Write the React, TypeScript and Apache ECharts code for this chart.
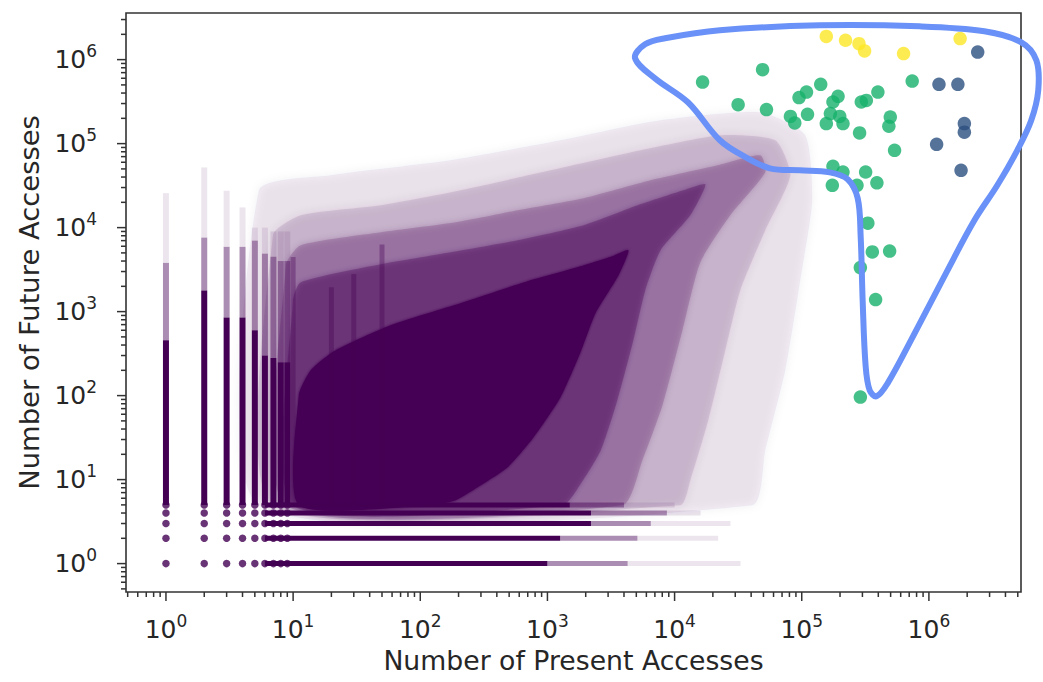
import { useEffect, useRef } from 'react';
import * as echarts from 'echarts';

// ---------- colours ----------
const PURPLE = '#440154';
const GREEN = '#17b06c';
const YELLOW = '#fde725';
const NAVY = '#2b4f80';
const OUTLINE = '#6a91f7';
const INK = '#262626';

// ---------- axis extents ----------
const X_MIN = 0.485;
const X_MAX = 5.3e6;
const Y_MIN = 0.459;
const Y_MAX = 3.59e6;

// ---------- highlighted clusters (present, future) ----------
const greenX = [1.66e4, 4.92e4, 3.16e4, 5.28e4, 1.41e5, 1.09e5, 9.52e4, 8.15e4, 8.81e4, 1.11e5, 1.93e5, 1.76e5, 1.68e5, 1.99e5, 2.11e5, 1.56e5, 2.94e5, 3.97e5, 3.22e5, 2.85e5, 4.97e5, 4.84e5, 7.39e5, 5.37e5, 1.76e5, 2.11e5, 3.18e5, 3.9e5, 1.74e5, 2.72e5, 3.31e5, 3.59e5, 4.91e5, 2.89e5, 3.81e5, 2.89e5];
const greenY = [5.41e5, 7.6e5, 2.91e5, 2.54e5, 5.08e5, 4.11e5, 3.53e5, 2.11e5, 1.76e5, 2.23e5, 3.66e5, 3.13e5, 2.28e5, 2.11e5, 1.73e5, 1.73e5, 3.13e5, 4.11e5, 3.27e5, 1.34e5, 2.07e5, 1.61e5, 5.56e5, 8.32e4, 5.37e4, 4.59e4, 4.59e4, 3.41e4, 3.19e4, 3.19e4, 1.13e4, 5.13e3, 5.26e3, 3.34e3, 1.39e3, 96];
const yellowX = [1.56e5, 2.21e5, 2.82e5, 3.12e5, 6.32e5, 1.76e6];
const yellowY = [1.89e6, 1.7e6, 1.55e6, 1.27e6, 1.18e6, 1.78e6];
const navyX = [2.42e6, 1.2e6, 1.69e6, 1.9e6, 1.9e6, 1.15e6, 1.79e6];
const navyY = [1.23e6, 5.08e5, 5.08e5, 1.73e5, 1.37e5, 9.8e4, 4.81e4];

// ---------- dense cloud density contours, [log10(present), log10(future)] ----------
const cloudFaint = [[0.731, 0.694], [0.731, 4.444], [1.296, 4.623], [2.239, 4.801], [3.103, 5.039], [3.888, 5.277], [4.674, 5.372], [5.027, 5.099], [5.082, 4.325], [4.988, 3.373], [4.87, 2.301], [4.713, 1.349], [4.611, 0.694]];
const cloudLight = [[0.841, 0.694], [0.841, 3.908], [1.06, 4.146], [1.689, 4.265], [2.317, 4.444], [3.024, 4.682], [3.731, 4.92], [4.36, 5.099], [4.792, 5.04], [4.91, 4.623], [4.713, 3.968], [4.517, 3.254], [4.399, 2.539], [4.265, 1.706], [4.124, 0.992], [4.045, 0.694]];
const cloudMidLight = [[0.943, 0.694], [0.943, 3.551], [1.06, 3.789], [1.689, 3.944], [2.278, 4.063], [2.765, 4.206], [3.284, 4.349], [3.81, 4.563], [4.336, 4.742], [4.674, 4.861], [4.713, 4.658], [4.438, 4.146], [4.203, 3.587], [4.062, 2.778], [3.905, 1.885], [3.747, 1.23], [3.59, 0.694]];
const cloudMedium = [[0.998, 0.694], [0.998, 3.135], [1.06, 3.349], [1.689, 3.563], [2.239, 3.706], [2.765, 3.849], [3.284, 4.027], [3.708, 4.265], [4.069, 4.444], [4.242, 4.515], [4.124, 4.146], [3.89, 3.73], [3.77, 3.254], [3.676, 2.658], [3.55, 1.944], [3.42, 1.349], [3.27, 0.968], [3.12, 0.694]];
const cloudCore = [[1.045, 0.694], [1.045, 2.004], [1.139, 2.301], [1.335, 2.539], [1.767, 2.837], [2.317, 3.099], [2.844, 3.361], [3.236, 3.527], [3.511, 3.658], [3.637, 3.73], [3.559, 3.432], [3.378, 2.98], [3.26, 2.515], [3.103, 1.98], [2.891, 1.504], [2.687, 1.147], [2.451, 0.908], [2.278, 0.753], [2.082, 0.694]];

// integer columns: [present, solid top, medium top, faint top]
const columns = [
  [1, 455, 3800, 25700],
  [2, 1780, 7600, 52000],
  [3, 850, 5900, 27500],
  [4, 850, 5900, 17400],
  [5, 600, 7000, 10000],
  [6, 300, 4900, 10000],
  [7, 280, 4500, 9000],
  [8, 250, 4000, 9000],
  [9, 250, 4000, 9000],
];
// spikes at round present counts: [present, top]
const spikes = [[10, 4460], [20, 1950], [30, 2800], [50, 6300]];
// integer rows: [future, solid end, medium end, faint end]
const rows = [
  [1, 1000, 4270, 33000],
  [2, 1260, 5100, 22000],
  [3, 2200, 6500, 27500],
  [4, 2200, 8700, 16000],
  [5, 1500, 4000, 10000],
];
const dotX = [1, 2, 3, 4, 5, 6, 7, 8, 9];
const dotY = [1, 2, 3, 4, 5];

// hand-drawn outline, [log10(present), log10(future)]
const outline = [[3.689, 6.018], [3.768, 6.182], [3.925, 6.254], [4.356, 6.349], [5.141, 6.408], [5.926, 6.396], [6.436, 6.337], [6.727, 6.206], [6.845, 5.992], [6.86, 5.635], [6.805, 5.277], [6.695, 4.92], [6.538, 4.504], [6.358, 4.087], [6.138, 3.468], [5.871, 2.694], [5.675, 2.146], [5.589, 1.992], [5.534, 2.063], [5.502, 2.361], [5.479, 3.135], [5.463, 3.908], [5.44, 4.349], [5.361, 4.575], [5.22, 4.658], [4.984, 4.682], [4.749, 4.706], [4.56, 4.837], [4.356, 5.04], [4.105, 5.492], [3.846, 5.777]];

const majorTicks = [1, 10, 100, 1e3, 1e4, 1e5, 1e6];

function zip(a: number[], b: number[]) {
  return a.map((v, i) => [v, b[i]]);
}

function polygonSeries(pts: number[][], opacity: number, z: number, blur: number) {
  const data = pts.map(([lx, ly]) => [Math.pow(10, lx), Math.pow(10, ly)]);
  return {
    type: 'custom',
    coordinateSystem: 'cartesian2d',
    silent: true,
    clip: false,
    z,
    data,
    renderItem: (params: any, api: any) => {
      if (params.dataIndex !== 0) return null;
      return {
        type: 'polygon',
        shape: { points: data.map((d) => api.coord(d)), smooth: 0.2 },
        style: blur > 0
          ? { fill: PURPLE, opacity, shadowBlur: blur, shadowColor: PURPLE }
          : { fill: PURPLE, opacity },
      };
    },
  };
}

function seg(a: number[], b: number[], opacity: number, width: number) {
  return {
    type: 'line',
    shape: { x1: a[0], y1: a[1], x2: b[0], y2: b[1] },
    style: { stroke: PURPLE, lineWidth: width, opacity, lineCap: 'butt' },
  };
}

export default function App() {
  const ref = useRef<HTMLDivElement>(null);
  useEffect(() => {
    if (!ref.current) return;
    const chart = echarts.init(ref.current, null, { renderer: 'svg' });

    const ticks: { axis: string; v: number; major: boolean }[] = [];
    for (let d = -1; d <= 6; d++) {
      for (let k = 1; k <= 9; k++) {
        const v = k * Math.pow(10, d);
        const major = k === 1;
        if (v >= X_MIN && v <= X_MAX) ticks.push({ axis: 'x', v, major });
        if (v >= Y_MIN && v <= Y_MAX) ticks.push({ axis: 'y', v, major });
      }
    }

    const isPow = (v: number) => Math.abs(Math.log10(v) - Math.round(Math.log10(v))) < 1e-6;
    const labelFmt = (v: number) => (isPow(v) && majorTicks.indexOf(Math.round(v)) >= 0 ? `{a|10}{b|${Math.round(Math.log10(v))}}` : '');
    const rich = {
      a: { fontSize: 25, lineHeight: 34, color: INK, fontFamily: 'DejaVu Sans' },
      b: { fontSize: 17, lineHeight: 16, verticalAlign: 'top', color: INK, fontFamily: 'DejaVu Sans' },
    };

    const dots: number[][] = [];
    dotX.forEach((x) => dotY.forEach((y) => dots.push([x, y])));

    chart.setOption({
      animation: false,
      backgroundColor: '#ffffff',
      grid: {
        left: 126,
        top: 13,
        width: 895,
        height: 579,
        show: true,
        borderColor: '#333333',
        borderWidth: 1.6,
        backgroundColor: 'transparent',
        containLabel: false,
        outerBoundsMode: 'none',
      },
      xAxis: {
        type: 'log',
        logBase: 10,
        min: X_MIN,
        max: X_MAX,
        name: 'Number of Present Accesses',
        nameLocation: 'middle',
        nameGap: 55,
        nameTextStyle: { fontSize: 26.7, color: INK, fontFamily: 'DejaVu Sans' },
        axisLine: { show: false },
        axisTick: { show: false },
        splitLine: { show: false },
        minorTick: { show: false },
        axisLabel: { formatter: labelFmt, rich, margin: 20, hideOverlap: false, color: INK },
      },
      yAxis: {
        type: 'log',
        logBase: 10,
        min: Y_MIN,
        max: Y_MAX,
        name: 'Number of Future Accesses',
        nameLocation: 'middle',
        nameGap: 78,
        nameTextStyle: { fontSize: 27.4, color: INK, fontFamily: 'DejaVu Sans' },
        axisLine: { show: false },
        axisTick: { show: false },
        splitLine: { show: false },
        minorTick: { show: false },
        axisLabel: { formatter: labelFmt, rich, margin: 29, hideOverlap: false, color: INK },
      },
      series: [
        polygonSeries(cloudFaint, 0.06, 1, 10),
        polygonSeries(cloudLight, 0.11, 2, 8),
        polygonSeries(cloudMidLight, 0.2, 3, 6),
        polygonSeries(cloudMedium, 0.32, 3, 5),
        polygonSeries(cloudCore, 1, 4, 3),
        {
          type: 'custom',
          coordinateSystem: 'cartesian2d',
          silent: true,
          clip: false,
          z: 5,
          data: spikes,
          renderItem: (params: any, api: any) => {
            const x = api.value(0);
            return seg(api.coord([x, 5]), api.coord([x, api.value(1)]), 0.35, 5);
          },
        },
        {
          type: 'custom',
          coordinateSystem: 'cartesian2d',
          silent: true,
          clip: false,
          z: 5,
          data: columns,
          renderItem: (params: any, api: any) => {
            const x = api.value(0);
            const p0 = api.coord([x, 5]);
            const p1 = api.coord([x, api.value(1)]);
            const p2 = api.coord([x, api.value(2)]);
            const p3 = api.coord([x, api.value(3)]);
            return {
              type: 'group',
              children: [seg(p0, p1, 1, 6), seg(p1, p2, 0.45, 6), seg(p2, p3, 0.1, 6)],
            };
          },
        },
        {
          type: 'custom',
          coordinateSystem: 'cartesian2d',
          silent: true,
          clip: false,
          z: 5,
          data: rows.map((r) => [r[1], r[0], r[2], r[3]]),
          renderItem: (params: any, api: any) => {
            const y = api.value(1);
            const p0 = api.coord([6, y]);
            const p1 = api.coord([api.value(0), y]);
            const p2 = api.coord([api.value(2), y]);
            const p3 = api.coord([api.value(3), y]);
            return {
              type: 'group',
              children: [seg(p0, p1, 1, 5), seg(p1, p2, 0.45, 5), seg(p2, p3, 0.1, 5)],
            };
          },
        },
        {
          type: 'scatter',
          silent: true,
          z: 6,
          symbolSize: 7.5,
          itemStyle: { color: PURPLE },
          data: dots,
        },
        {
          type: 'scatter',
          silent: true,
          z: 8,
          symbolSize: 13.5,
          itemStyle: { color: GREEN },
          data: zip(greenX, greenY),
        },
        {
          type: 'scatter',
          silent: true,
          z: 8,
          symbolSize: 13.5,
          itemStyle: { color: YELLOW },
          data: zip(yellowX, yellowY),
        },
        {
          type: 'scatter',
          silent: true,
          z: 8,
          symbolSize: 13.5,
          itemStyle: { color: NAVY },
          data: zip(navyX, navyY),
        },
        {
          type: 'custom',
          coordinateSystem: 'cartesian2d',
          silent: true,
          clip: false,
          z: 10,
          data: outline.map(([lx, ly]) => [Math.pow(10, lx), Math.pow(10, ly)]),
          renderItem: (params: any, api: any) => {
            if (params.dataIndex !== 0) return null;
            const pts = outline.map(([lx, ly]) => api.coord([Math.pow(10, lx), Math.pow(10, ly)]));
            return {
              type: 'polygon',
              shape: { points: pts, smooth: 0.35 },
              style: { fill: 'none', stroke: OUTLINE, lineWidth: 6, lineJoin: 'round' },
            };
          },
        },
        {
          type: 'custom',
          coordinateSystem: 'cartesian2d',
          silent: true,
          clip: false,
          z: 12,
          data: ticks.map(() => [1, 1]),
          renderItem: (params: any, api: any) => {
            const cs = params.coordSys;
            const t = ticks[params.dataIndex];
            const len = t.major ? 9 : 5;
            if (t.axis === 'x') {
              const px = api.coord([t.v, 1])[0];
              const y0 = cs.y + cs.height;
              return { type: 'line', shape: { x1: px, y1: y0, x2: px, y2: y0 + len }, style: { stroke: '#333333', lineWidth: 1.5 } };
            }
            const py = api.coord([1, t.v])[1];
            return { type: 'line', shape: { x1: cs.x, y1: py, x2: cs.x - len, y2: py }, style: { stroke: '#333333', lineWidth: 1.5 } };
          },
        },
      ],
    });
    return () => chart.dispose();
  }, []);

  return <div ref={ref} style={{ position: 'absolute', left: 0, top: 0, width: 1043, height: 682 }} />;
}
